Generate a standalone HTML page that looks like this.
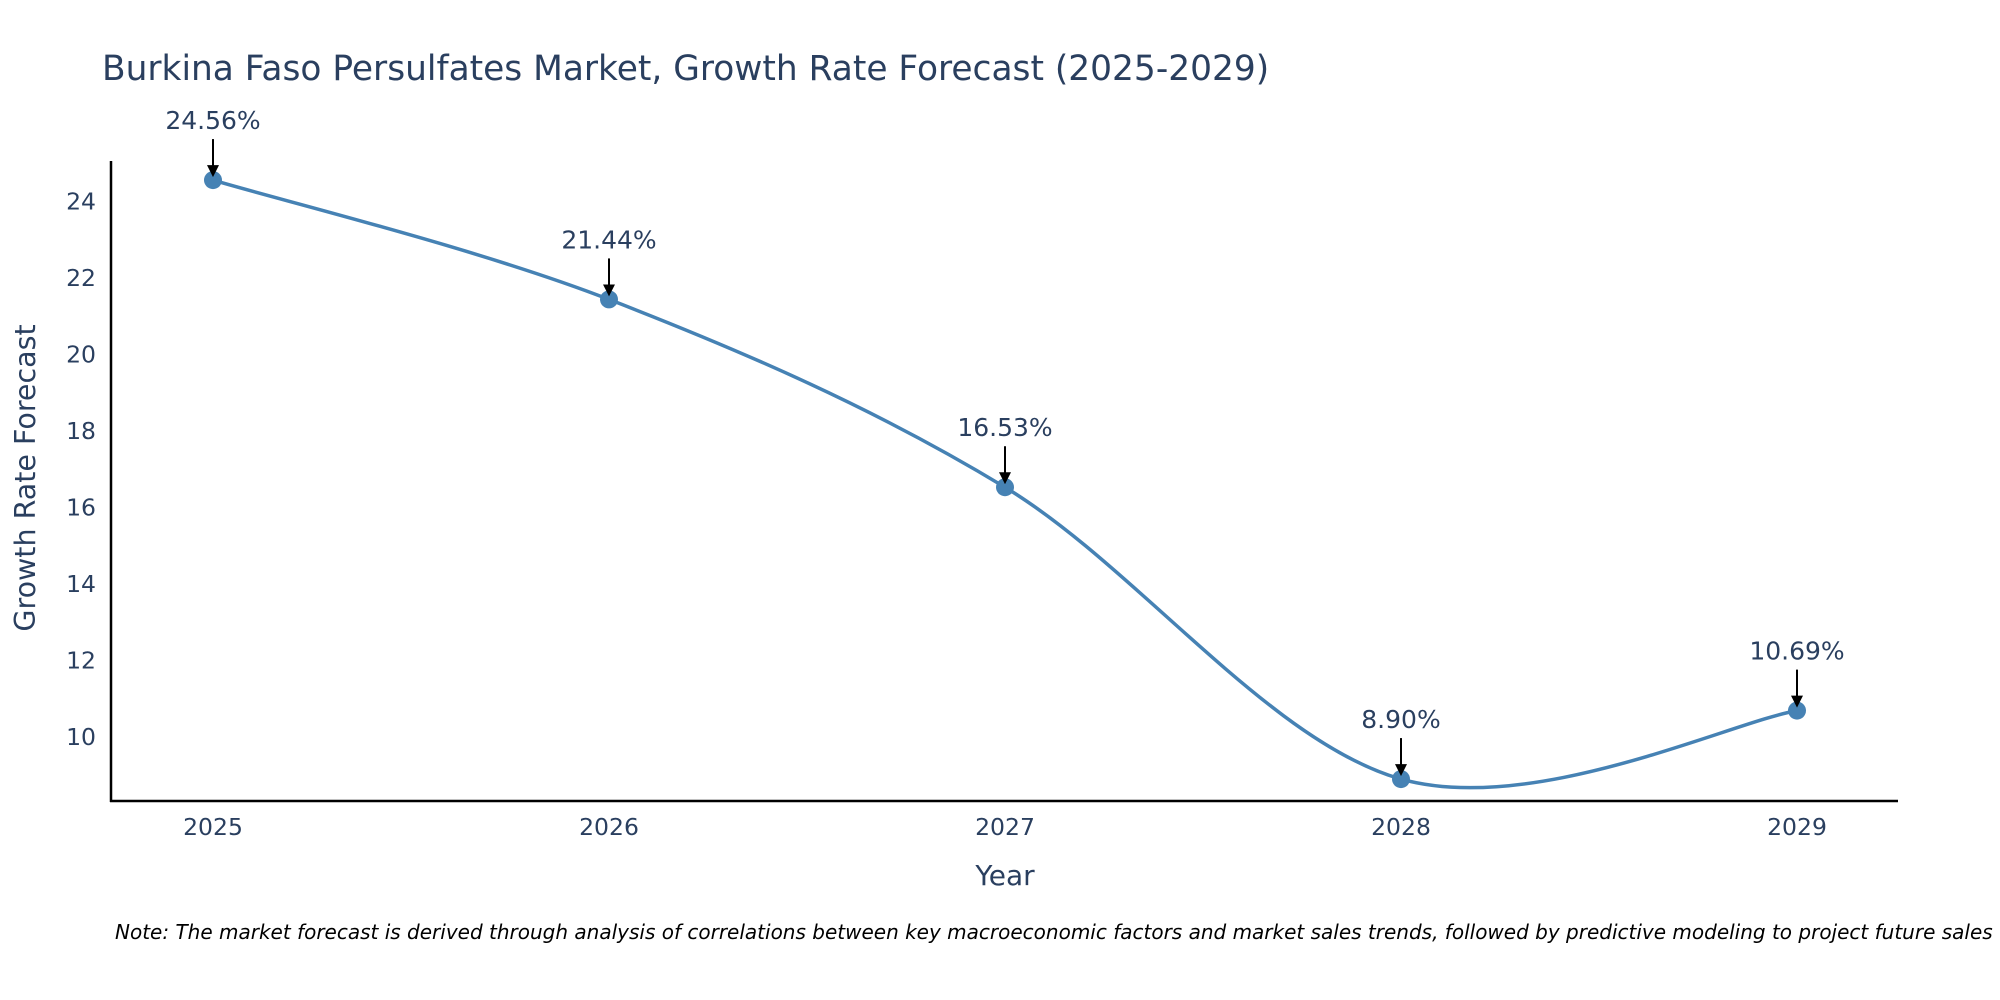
<!DOCTYPE html>
<html><head><meta charset="utf-8"><style>
html,body{margin:0;padding:0;background:#fff;}
svg{display:block;font-family:"DejaVu Sans","Liberation Sans",sans-serif;}
</style></head><body>
<svg id="chart" width="2000" height="1000">
<defs><marker id="ah" markerWidth="12" markerHeight="12" refX="10" refY="6" orient="auto" markerUnits="userSpaceOnUse" viewBox="0 0 12 12"><path d="M0,0 L12,6 L0,12 z" fill="#000"/></marker></defs>
<text x="102" y="80" font-size="34.4" fill="#2a3f5f">Burkina Faso Persulfates Market, Growth Rate Forecast (2025-2029)</text>
<g id="yticks"></g><g id="xticks"></g>
<line x1="111" y1="161" x2="111" y2="802" stroke="#000" stroke-width="2.5"/>
<line x1="110" y1="801" x2="1898" y2="801" stroke="#000" stroke-width="2.5"/>
<g id="series"></g><g id="annots"></g>
<text x="1005" y="885" font-size="28" fill="#2a3f5f" text-anchor="middle">Year</text>
<text transform="translate(35,478) rotate(-90)" font-size="28.5" fill="#2a3f5f" text-anchor="middle">Growth Rate Forecast</text>
<text x="115" y="939" font-size="20" font-style="italic" fill="#000">Note: The market forecast is derived through analysis of correlations between key macroeconomic factors and market sales trends, followed by predictive modeling to project future sales</text>
</svg>
<script>
const years = ["2025","2026","2027","2028","2029"];
const values = [24.56, 21.44, 16.53, 8.90, 10.69];
const labels = ["24.56%","21.44%","16.53%","8.90%","10.69%"];
const yTicks = [10,12,14,16,18,20,22,24];
const NS="http://www.w3.org/2000/svg";
function xs(i){return 213+i*396;}
function ys(v){return 201.5+(24-v)*38.25;}
function mk(tag,attrs,parent){const e=document.createElementNS(NS,tag);for(const k in attrs)e.setAttribute(k,attrs[k]);parent.appendChild(e);return e;}
const yt=document.getElementById('yticks');
yTicks.forEach(t=>{const e=mk('text',{x:96,y:ys(t)+8,'font-size':23.5,fill:'#2a3f5f','text-anchor':'end'},yt);e.textContent=t;

});
const xt=document.getElementById('xticks');
years.forEach((y,i)=>{const e=mk('text',{x:xs(i),y:835,'font-size':23.5,fill:'#2a3f5f','text-anchor':'middle'},xt);e.textContent=y;

});
const pts=values.map((v,i)=>[xs(i),ys(v)]);
let d='M'+pts[0][0]+','+pts[0][1];
const s=1/6;
for(let i=0;i<pts.length-1;i++){
 const p0=pts[Math.max(i-1,0)],p1=pts[i],p2=pts[i+1],p3=pts[Math.min(i+2,pts.length-1)];
 const c1=[p1[0]+(p2[0]-p0[0])*s,p1[1]+(p2[1]-p0[1])*s];
 const c2=[p2[0]-(p3[0]-p1[0])*s,p2[1]-(p3[1]-p1[1])*s];
 d+=' C'+c1.join(',')+' '+c2.join(',')+' '+p2.join(',');
}
const sg=document.getElementById('series');
const line=mk('path',{d:d,fill:'none',stroke:'#4682b4','stroke-width':3.5},sg);


const an=document.getElementById('annots');
pts.forEach((p,i)=>{
 const c=mk('circle',{cx:p[0],cy:p[1],r:9,fill:'#4682b4'},sg);
 
 
 const a=mk('line',{x1:p[0],y1:p[1]-41,x2:p[0],y2:p[1]-5,stroke:'#000','stroke-width':2,'marker-end':'url(#ah)'},an);
 
 
 const t=mk('text',{x:p[0],y:p[1]-51,'font-size':25,fill:'#2a3f5f','text-anchor':'middle'},an);
 t.textContent=labels[i];
 
 
});
</script>
</body></html>
